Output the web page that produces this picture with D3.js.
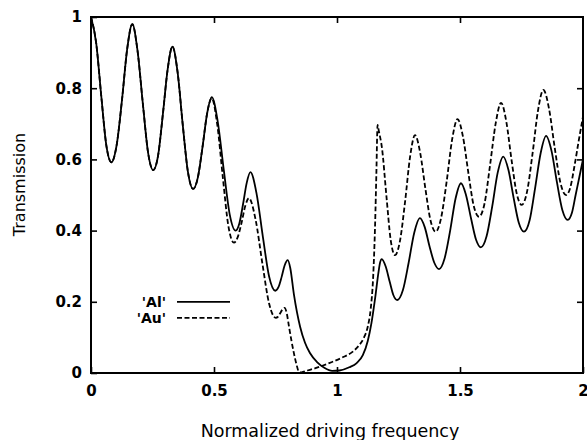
<!DOCTYPE html>
<html>
<head>
<meta charset="utf-8">
<script src="https://cdn.jsdelivr.net/npm/d3@7"></script>
<style>
  html, body { margin: 0; padding: 0; background: #fff; }
  svg { display: block; }
</style>
</head>
<body>
<svg id="chart" width="587" height="440"></svg>
<script>
// ---- data ----
const xTicks = [0, 0.5, 1, 1.5, 2];
const xTickLabels = ["0", "0.5", "1", "1.5", "2"];
const yTicks = [0, 0.2, 0.4, 0.6, 0.8, 1];
const yTickLabels = ["0", "0.2", "0.4", "0.6", "0.8", "1"];
const seriesNames = ["'Al'", "'Au'"];

const alX = [0.000,0.021,0.042,0.062,0.083,0.104,0.126,0.147,0.168,0.189,0.211,0.232,0.253,0.273,0.292,0.312,0.331,0.352,0.373,0.394,0.415,0.434,0.453,0.472,0.491,0.515,0.540,0.564,0.588,0.603,0.618,0.633,0.648,0.673,0.699,0.724,0.749,0.762,0.775,0.787,0.800,0.810,0.825,0.850,0.870,0.890,0.920,0.950,0.980,1.010,1.050,1.080,1.105,1.125,1.140,1.155,1.168,1.175,1.182,1.198,1.214,1.229,1.245,1.268,1.291,1.314,1.337,1.357,1.376,1.396,1.415,1.437,1.460,1.482,1.504,1.524,1.545,1.565,1.585,1.608,1.631,1.653,1.676,1.697,1.718,1.739,1.760,1.783,1.805,1.828,1.850,1.872,1.894,1.916,1.938,1.955,1.970,1.985,2.000];
const alY = [1.000,0.927,0.776,0.641,0.592,0.639,0.767,0.910,0.980,0.906,0.755,0.619,0.570,0.612,0.726,0.855,0.917,0.845,0.697,0.565,0.517,0.548,0.633,0.729,0.775,0.707,0.569,0.445,0.400,0.420,0.474,0.534,0.564,0.504,0.381,0.271,0.231,0.241,0.270,0.302,0.317,0.295,0.220,0.130,0.085,0.056,0.030,0.014,0.006,0.007,0.016,0.028,0.050,0.090,0.140,0.210,0.280,0.310,0.320,0.299,0.257,0.219,0.205,0.233,0.309,0.394,0.435,0.409,0.356,0.309,0.292,0.321,0.400,0.490,0.533,0.501,0.434,0.375,0.353,0.384,0.468,0.562,0.608,0.570,0.492,0.422,0.397,0.429,0.518,0.618,0.666,0.624,0.536,0.458,0.430,0.450,0.500,0.550,0.600];

const auX = [0.000,0.021,0.042,0.062,0.083,0.104,0.126,0.147,0.168,0.189,0.211,0.232,0.253,0.273,0.292,0.312,0.331,0.352,0.373,0.394,0.415,0.434,0.453,0.472,0.491,0.513,0.536,0.558,0.581,0.596,0.612,0.627,0.642,0.669,0.697,0.724,0.751,0.760,0.769,0.778,0.787,0.795,0.805,0.815,0.825,0.835,0.845,0.855,0.880,0.910,0.943,0.980,1.020,1.066,1.090,1.110,1.125,1.137,1.147,1.155,1.160,1.165,1.170,1.183,1.201,1.218,1.236,1.256,1.277,1.297,1.317,1.338,1.359,1.380,1.401,1.423,1.446,1.468,1.490,1.512,1.534,1.555,1.577,1.600,1.622,1.645,1.667,1.688,1.709,1.730,1.751,1.773,1.795,1.817,1.839,1.862,1.885,1.908,1.931,1.948,1.965,1.982,2.000];
const auY = [1.000,0.927,0.776,0.641,0.592,0.639,0.767,0.910,0.980,0.906,0.755,0.619,0.570,0.612,0.726,0.855,0.917,0.845,0.697,0.565,0.517,0.548,0.633,0.729,0.772,0.699,0.549,0.415,0.366,0.381,0.422,0.469,0.491,0.431,0.306,0.195,0.155,0.158,0.168,0.178,0.183,0.170,0.130,0.090,0.055,0.025,0.004,0.002,0.007,0.013,0.021,0.031,0.043,0.061,0.078,0.100,0.130,0.180,0.270,0.420,0.560,0.697,0.680,0.631,0.496,0.375,0.331,0.371,0.483,0.607,0.668,0.619,0.519,0.429,0.397,0.435,0.539,0.656,0.713,0.664,0.562,0.472,0.439,0.477,0.583,0.701,0.759,0.707,0.601,0.506,0.472,0.511,0.617,0.737,0.795,0.742,0.633,0.535,0.500,0.520,0.580,0.650,0.720];

// ---- drawing ----
const svg = d3.select("#chart");
const x = d3.scaleLinear().domain([0, 2]).range([91, 583]);
const y = d3.scaleLinear().domain([0, 1]).range([373, 17]);

const tickFont = "'DejaVu Sans', sans-serif";

const gB = svg.append("g").attr("transform", `translate(0,${y(0)})`)
  .call(d3.axisBottom(x).tickValues(xTicks).tickSizeInner(-6).tickSizeOuter(0).tickPadding(12)
    .tickFormat((d, i) => xTickLabels[i]));
const gL = svg.append("g").attr("transform", `translate(${x(0)},0)`)
  .call(d3.axisLeft(y).tickValues(yTicks).tickSizeInner(-6).tickSizeOuter(0).tickPadding(9)
    .tickFormat((d, i) => yTickLabels[i]));
const gT = svg.append("g").attr("transform", `translate(0,${y(1)})`)
  .call(d3.axisTop(x).tickValues(xTicks.slice(1, -1)).tickSizeInner(-6).tickSizeOuter(0).tickFormat(""));
const gR = svg.append("g").attr("transform", `translate(${x(2)},0)`)
  .call(d3.axisRight(y).tickValues(yTicks.slice(1, -1)).tickSizeInner(-6).tickSizeOuter(0).tickFormat(""));

[gB, gL, gT, gR].forEach(g => {
  g.select(".domain").remove();
  g.selectAll(".tick line").attr("stroke", "#000").attr("stroke-width", 1.6);
  g.selectAll(".tick text").attr("fill", "#000")
    .style("font-family", tickFont).style("font-weight", "bold").style("font-size", "15px");
});

svg.append("rect")
  .attr("x", x(0)).attr("y", y(1))
  .attr("width", x(2) - x(0)).attr("height", y(0) - y(1))
  .attr("fill", "none").attr("stroke", "#000").attr("stroke-width", 2);

const line = d3.line().x(d => x(d[0])).y(d => y(d[1])).curve(d3.curveMonotoneX);
const alData = alX.map((v, i) => [v, alY[i]]);
const auData = auX.map((v, i) => [v, auY[i]]);

const plot = svg.append("g");
plot.append("path").datum(auData).attr("d", line)
  .attr("fill", "none").attr("stroke", "#000").attr("stroke-width", 1.8)
  .attr("stroke-dasharray", "5,2.5");
plot.append("path").datum(alData).attr("d", line)
  .attr("fill", "none").attr("stroke", "#000").attr("stroke-width", 1.8);

const legY = [y(0.2), y(0.155)];
const leg = svg.append("g");
seriesNames.forEach((name, i) => {
  leg.append("text").attr("x", 166).attr("y", legY[i]).attr("dy", "0.36em")
    .attr("text-anchor", "end")
    .style("font-family", tickFont).style("font-weight", "bold").style("font-size", "14px")
    .text(name);
  leg.append("line").attr("x1", 177).attr("x2", 230).attr("y1", legY[i]).attr("y2", legY[i])
    .attr("stroke", "#000").attr("stroke-width", 1.8)
    .attr("stroke-dasharray", i === 1 ? "5,2.5" : null);
});

svg.append("text").attr("x", (x(0) + x(2)) / 2 - 7).attr("y", 437)
  .attr("text-anchor", "middle")
  .style("font-family", tickFont).style("font-size", "17.5px")
  .text("Normalized driving frequency");
svg.append("text")
  .attr("transform", `translate(25,${(131 + 238) / 2}) rotate(-90)`)
  .attr("text-anchor", "middle")
  .style("font-family", tickFont).style("font-size", "16px")
  .text("Transmission");
</script>
</body>
</html>
